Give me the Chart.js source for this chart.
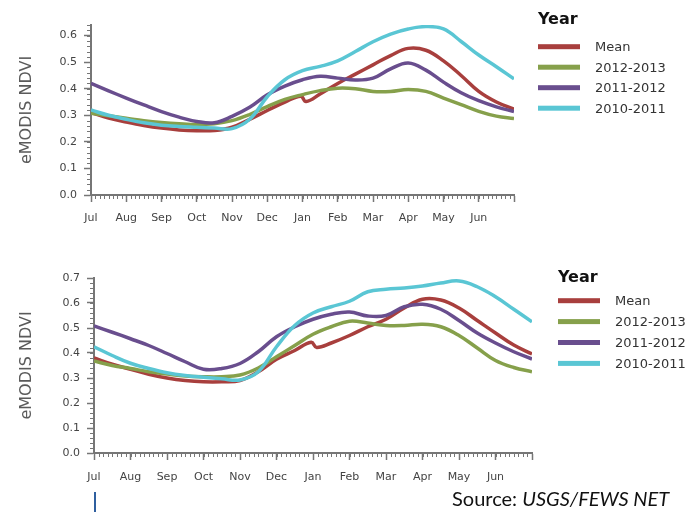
<!DOCTYPE html>
<html>
<head>
<meta charset="utf-8">
<script src="https://cdn.jsdelivr.net/npm/chart.js@4/dist/chart.umd.min.js"></script>
<style>
body { margin: 0; width: 696px; height: 512px; overflow: hidden; background: #fff; position: relative; }
#topChart { position: absolute; left: 0; top: 0; }
#bottomChart { position: absolute; left: 0; top: 250px; }
#source { position: absolute; left: 452px; top: 486px; font-family: Lato, sans-serif; font-size: 20px; color: #111; white-space: nowrap; }
#bar { position: absolute; left: 94px; top: 492px; width: 2px; height: 20px; background: #2f5f9f; }
</style>
</head>
<body>
<canvas id="topChart" width="696" height="240"></canvas>
<canvas id="bottomChart" width="688" height="240"></canvas>
<div id="bar"></div>
<div id="source">Source: <i>USGS/FEWS NET</i></div>
<script>
// months start at July, position 0 = 1 Jul, 12 = end of June
var monthLabels = ['Jul', 'Aug', 'Sep', 'Oct', 'Nov', 'Dec', 'Jan', 'Feb', 'Mar', 'Apr', 'May', 'Jun'];
var monthTicks = [0, 1, 2, 3, 4, 5, 6, 7, 8, 9, 10, 11, 12];
var topYTicks = [0, 0.1, 0.2, 0.3, 0.4, 0.5, 0.6];
var bottomYTicks = [0, 0.1, 0.2, 0.3, 0.4, 0.5, 0.6, 0.7];

var seriesNames = ['Mean', '2012-2013', '2011-2012', '2010-2011'];
var seriesColors = ['#a83f3d', '#86a04b', '#694e8e', '#5ac6d4'];

var samplePos = [0, 0.5, 1, 1.5, 2, 2.5, 3, 3.5, 4, 4.5, 5, 5.5, 6, 6.5, 7, 7.5, 8, 8.5, 9, 9.5, 10, 10.5, 11, 11.5, 12];
var meanPos = [0, 0.5, 1, 1.5, 2, 2.5, 3, 3.5, 4, 4.5, 5, 5.5, 5.95, 6.1, 6.5, 7, 7.5, 8, 8.5, 9, 9.5, 10, 10.5, 11, 11.5, 12];

// upper panel
var topMean = [0.31, 0.29, 0.275, 0.262, 0.252, 0.245, 0.242, 0.243, 0.255, 0.285, 0.318, 0.35, 0.372, 0.352, 0.38, 0.42, 0.455, 0.49, 0.525, 0.552, 0.545, 0.505, 0.45, 0.39, 0.35, 0.323];
var top1213 = [0.308, 0.298, 0.289, 0.28, 0.273, 0.268, 0.265, 0.268, 0.28, 0.303, 0.333, 0.36, 0.378, 0.393, 0.402, 0.4, 0.39, 0.39, 0.397, 0.39, 0.365, 0.34, 0.315, 0.297, 0.288];
var top1112 = [0.42, 0.392, 0.365, 0.339, 0.314, 0.293, 0.277, 0.272, 0.296, 0.33, 0.377, 0.41, 0.434, 0.447, 0.44, 0.433, 0.44, 0.475, 0.497, 0.47, 0.425, 0.385, 0.355, 0.332, 0.314];
var top1011 = [0.32, 0.3, 0.285, 0.272, 0.263, 0.258, 0.255, 0.252, 0.25, 0.285, 0.37, 0.434, 0.468, 0.484, 0.505, 0.54, 0.577, 0.606, 0.625, 0.634, 0.625, 0.578, 0.527, 0.483, 0.437];

// lower panel
var bottomMean = [0.38, 0.355, 0.335, 0.315, 0.3, 0.29, 0.285, 0.285, 0.29, 0.325, 0.375, 0.41, 0.443, 0.422, 0.44, 0.47, 0.505, 0.535, 0.58, 0.615, 0.612, 0.58, 0.53, 0.48, 0.432, 0.396];
var bottom1213 = [0.368, 0.35, 0.338, 0.325, 0.316, 0.308, 0.305, 0.305, 0.312, 0.34, 0.385, 0.43, 0.475, 0.505, 0.527, 0.52, 0.51, 0.51, 0.515, 0.505, 0.47, 0.42, 0.37, 0.342, 0.325];
var bottom1112 = [0.508, 0.483, 0.457, 0.43, 0.398, 0.365, 0.335, 0.338, 0.358, 0.405, 0.465, 0.505, 0.535, 0.555, 0.564, 0.548, 0.55, 0.585, 0.595, 0.575, 0.53, 0.48, 0.44, 0.405, 0.376];
var bottom1011 = [0.425, 0.39, 0.359, 0.338, 0.321, 0.31, 0.303, 0.297, 0.292, 0.325, 0.425, 0.51, 0.56, 0.585, 0.607, 0.645, 0.655, 0.66, 0.668, 0.68, 0.688, 0.665, 0.625, 0.575, 0.525];

var axisColor = '#767676';

function pairs(pos, vals) {
    return vals.map(function (v, i) { return { x: pos[i], y: v }; });
}

// short ticks between the labelled ones
var minorTicks = {
    id: 'minorTicks',
    afterDraw: function (chart, args, opts) {
        var ctx = chart.ctx, xs = chart.scales.x, ys = chart.scales.y;
        var area = chart.chartArea;
        ctx.save();
        ctx.strokeStyle = axisColor;
        ctx.lineWidth = 1;
        ctx.beginPath();
        for (var m = 0; m <= 12.001; m += 1 / 8) {
            var px = Math.round(xs.getPixelForValue(m)) + 0.5;
            ctx.moveTo(px, area.bottom);
            ctx.lineTo(px, area.bottom + 4);
        }
        for (var v = 0; v <= ys.max + 0.0001; v += 0.02) {
            var py = Math.round(ys.getPixelForValue(v)) + 0.5;
            ctx.moveTo(area.left - 4, py);
            ctx.lineTo(area.left, py);
        }
        ctx.stroke();
        ctx.restore();
    }
};

var yearLegend = {
    id: 'yearLegend',
    afterDraw: function (chart, args, opts) {
        var ctx = chart.ctx;
        ctx.save();
        ctx.textBaseline = 'middle';
        ctx.textAlign = 'left';
        ctx.fillStyle = '#111';
        ctx.font = 'bold 16px "DejaVu Sans"';
        ctx.fillText(opts.title, opts.x, opts.titleY);
        ctx.font = '13px "DejaVu Sans"';
        chart.data.datasets.forEach(function (ds, i) {
            var yy = opts.y + i * opts.gap;
            ctx.fillStyle = ds.borderColor;
            ctx.fillRect(opts.x, yy - 2.5, 42, 5);
            ctx.fillStyle = '#333';
            ctx.fillText(ds.label, opts.x + 57, yy + 1);
        });
        ctx.restore();
    }
};

function renderPanel(id, series, yMax, yTicks, pad, yWidth, xHeight, xPad, legend) {
    var ctx = document.getElementById(id);
    var posList = [meanPos, samplePos, samplePos, samplePos];
    return new Chart(ctx, {
        type: 'line',
        data: {
            datasets: series.map(function (vals, i) {
                return {
                    label: seriesNames[i],
                    data: pairs(posList[i], vals),
                    borderColor: seriesColors[i],
                    backgroundColor: seriesColors[i],
                    borderWidth: 3.5,
                    pointRadius: 0,
                    tension: 0.4,
                    order: 4 - i
                };
            })
        },
        options: {
            responsive: false,
            animation: false,
            layout: { padding: pad },
            plugins: {
                legend: { display: false },
                tooltip: { enabled: false },
                yearLegend: legend
            },
            scales: {
                x: {
                    type: 'linear',
                    min: 0,
                    max: 12,
                    afterBuildTicks: function (scale) {
                        scale.ticks = monthTicks.map(function (v) { return { value: v }; });
                    },
                    afterFit: function (scale) { scale.height = xHeight; },
                    ticks: {
                        autoSkip: false,
                        maxRotation: 0,
                        padding: xPad,
                        color: '#444',
                        font: { family: 'DejaVu Sans', size: 11 },
                        callback: function (value, index) { return monthLabels[index] || ''; }
                    },
                    grid: { drawOnChartArea: false, tickLength: 7, tickColor: axisColor, tickWidth: 1.5 },
                    border: { color: axisColor, width: 2 }
                },
                y: {
                    min: 0,
                    max: yMax,
                    afterBuildTicks: function (scale) {
                        scale.ticks = yTicks.map(function (v) { return { value: v }; });
                    },
                    afterFit: function (scale) { scale.width = yWidth; },
                    ticks: {
                        padding: 7,
                        color: '#444',
                        font: { family: 'DejaVu Sans', size: 11 },
                        callback: function (value) { return value.toFixed(1); }
                    },
                    grid: { drawOnChartArea: false, tickLength: 7, tickColor: axisColor, tickWidth: 1.5 },
                    border: { color: axisColor, width: 2 },
                    title: {
                        display: true,
                        text: 'eMODIS NDVI',
                        color: '#5a5a5a',
                        font: { family: 'DejaVu Sans', size: 16 }
                    }
                }
            }
        },
        plugins: [minorTicks, yearLegend]
    });
}

renderPanel('topChart', [topMean, top1213, top1112, top1011], 0.64, topYTicks,
    { left: 13, top: 25, right: 182, bottom: 0 }, 78, 45, 10,
    { title: 'Year', x: 538, titleY: 20, y: 46.7, gap: 20.5 });

renderPanel('bottomChart', [bottomMean, bottom1213, bottom1112, bottom1011], 0.7, bottomYTicks,
    { left: 13, top: 28, right: 156, bottom: 0 }, 81, 37, 11,
    { title: 'Year', x: 558, titleY: 28, y: 50.7, gap: 20.9 });
</script>
</body>
</html>
